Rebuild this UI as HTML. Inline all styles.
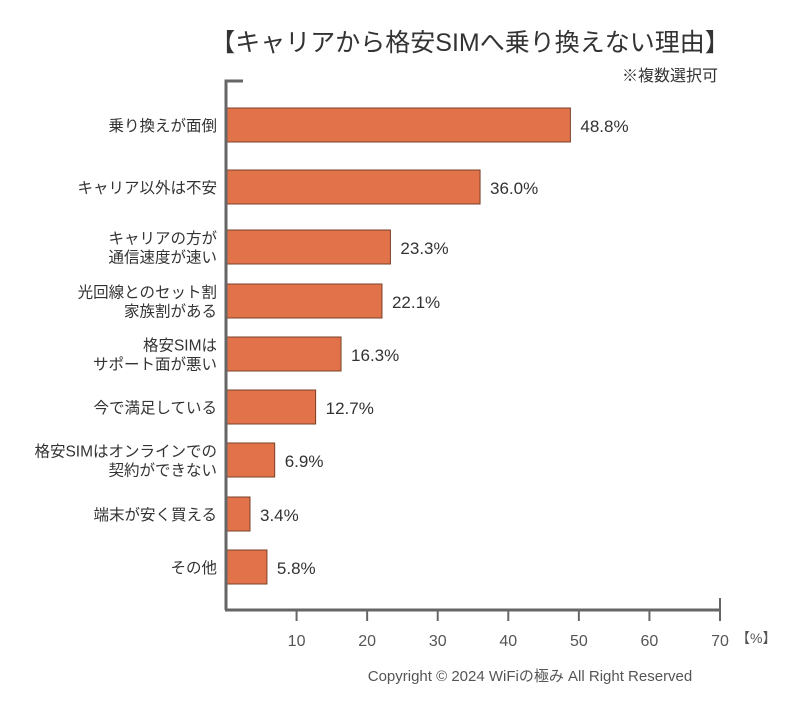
<!DOCTYPE html>
<html><head><meta charset="utf-8"><style>
body{margin:0;background:#fff;width:788px;height:700px;overflow:hidden}
svg text{font-family:"Liberation Sans","Noto Sans CJK JP",sans-serif}
</style></head><body>
<svg id="c" width="788" height="700">
<text x="470" y="51" text-anchor="middle" font-size="25" fill="#333">【キャリアから格安SIMへ乗り換えない理由】</text>
<text x="718" y="81" text-anchor="end" font-size="16" fill="#333">※複数選択可</text>
<text x="530" y="681" text-anchor="middle" font-size="15" fill="#555">Copyright © 2024 WiFiの極み All Right Reserved</text>
<g id="g"></g>
</svg>
<script>
const categories=[["乗り換えが面倒"],["キャリア以外は不安"],["キャリアの方が","通信速度が速い"],["光回線とのセット割","家族割がある"],["格安SIMは","サポート面が悪い"],["今で満足している"],["格安SIMはオンラインでの","契約ができない"],["端末が安く買える"],["その他"]];
const values=[48.8,36.0,23.3,22.1,16.3,12.7,6.9,3.4,5.8];
const ticks=[10,20,30,40,50,60,70];
const centers=[125,187,247,301,354,407,460,514,567];
const NS="http://www.w3.org/2000/svg",g=document.getElementById('g');
const x0=226,x1=720,xmax=70;
const X=v=>x0+(x1-x0)*v/xmax;
function mk(t,a){const e=document.createElementNS(NS,t);for(const k in a)e.setAttribute(k,a[k]);g.appendChild(e);return e;}
values.forEach((v,i)=>{
 const cy=centers[i];
 const r=mk('rect',{x:x0,y:cy-17,width:X(v)-x0,height:34,fill:'#e2724a',stroke:'#7a4028','stroke-width':1});
 
 
 const t=mk('text',{x:X(v)+10,y:cy+7,'font-size':17,fill:'#333'});
 t.textContent=v.toFixed(1)+'%';
 
 
 const lines=categories[i];
 lines.forEach((s,j)=>{
  const l=mk('text',{x:217,y:cy+6+(j-(lines.length-1)/2)*19,'font-size':15.5,fill:'#333','text-anchor':'end'});
  l.textContent=s;
  
  
 });
});
const ya=mk('path',{d:'M243 81H226V610',fill:'none',stroke:'#666','stroke-width':3});


const xa=mk('line',{x1:x0-1,y1:610,x2:x1,y2:610,stroke:'#666','stroke-width':3});


ticks.forEach(v=>{
 mk('line',{x1:X(v),y1:v===70?598:610,x2:X(v),y2:621,stroke:'#666','stroke-width':2});
 const t=mk('text',{x:X(v),y:646,'font-size':16,fill:'#555','text-anchor':'middle'});
 t.textContent=v;
 
 
});
const u=mk('text',{x:736,y:643,'font-size':14,fill:'#555'});
u.textContent='【%】';


</script>
</body></html>
